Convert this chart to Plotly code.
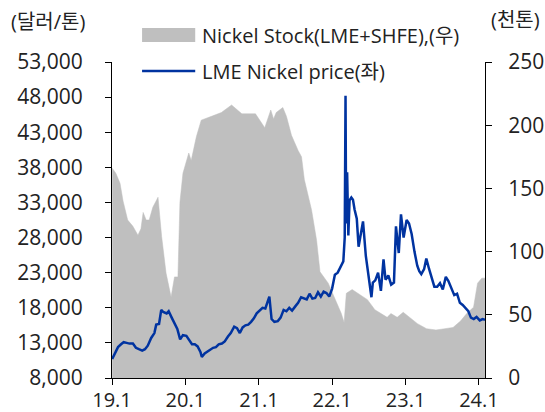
import plotly.graph_objects as go

# LME Nickel price (USD/ton) - left axis
price_dates = [
    "2019-01-02", "2019-01-15", "2019-01-31", "2019-02-15", "2019-02-28", "2019-03-15",
    "2019-03-29", "2019-04-15", "2019-04-30", "2019-05-15", "2019-05-31", "2019-06-14",
    "2019-06-28", "2019-07-15", "2019-07-31", "2019-08-09", "2019-08-23", "2019-09-03",
    "2019-09-13", "2019-09-30", "2019-10-10", "2019-10-25", "2019-11-08", "2019-11-22",
    "2019-12-06", "2019-12-20", "2020-01-06", "2020-01-20", "2020-02-03", "2020-02-17",
    "2020-03-02", "2020-03-16", "2020-03-23", "2020-04-06", "2020-04-20", "2020-05-04",
    "2020-05-18", "2020-06-01", "2020-06-15", "2020-07-01", "2020-07-15", "2020-07-31",
    "2020-08-14", "2020-08-31", "2020-09-14", "2020-09-28", "2020-10-12", "2020-10-26",
    "2020-11-09", "2020-11-23", "2020-12-07", "2020-12-21", "2021-01-05", "2021-01-19",
    "2021-02-02", "2021-02-22", "2021-03-05", "2021-03-19", "2021-04-05", "2021-04-19",
    "2021-05-04", "2021-05-18", "2021-06-01", "2021-06-15", "2021-07-01", "2021-07-15",
    "2021-07-30", "2021-08-13", "2021-08-27", "2021-09-10", "2021-09-24", "2021-10-08",
    "2021-10-22", "2021-11-05", "2021-11-19", "2021-12-03", "2021-12-17", "2021-12-31",
    "2022-01-14", "2022-01-28", "2022-02-11", "2022-02-25", "2022-03-04", "2022-03-07",
    "2022-03-08", "2022-03-11", "2022-03-16", "2022-03-22", "2022-03-28", "2022-04-06",
    "2022-04-14", "2022-04-22", "2022-05-03", "2022-05-12", "2022-05-26", "2022-06-03",
    "2022-06-17", "2022-06-30", "2022-07-15", "2022-07-22", "2022-08-03", "2022-08-17",
    "2022-08-31", "2022-09-13", "2022-09-23", "2022-10-07", "2022-10-21", "2022-11-04",
    "2022-11-14", "2022-11-28", "2022-12-09", "2022-12-22", "2023-01-06", "2023-01-18",
    "2023-01-31", "2023-02-14", "2023-02-28", "2023-03-10", "2023-03-20", "2023-04-03",
    "2023-04-14", "2023-04-27", "2023-05-10", "2023-05-24", "2023-06-07", "2023-06-21",
    "2023-07-05", "2023-07-20", "2023-08-02", "2023-08-17", "2023-08-31", "2023-09-14",
    "2023-09-28", "2023-10-12", "2023-10-26", "2023-11-09", "2023-11-22", "2023-12-06",
    "2023-12-20", "2024-01-05", "2024-01-19", "2024-01-31",
]
price_values = [
    10700, 11500, 12400, 12800, 13100, 13000,
    12900, 12900, 12300, 12100, 11900, 12100,
    12600, 13700, 14400, 15600, 15700, 17700,
    17400, 17200, 17500, 16600, 15900, 15000,
    13500, 14100, 14000, 13300, 12800, 12800,
    12500, 11700, 11000, 11500, 11800, 12000,
    12300, 12400, 12800, 12900, 13200, 13900,
    14400, 15300, 15100, 14400, 15200, 15500,
    15600, 16000, 16500, 17200, 17600, 18000,
    17900, 19600, 16400, 16000, 16100, 16600,
    17700, 17500, 18000, 17600, 18200, 18700,
    19500, 19300, 19200, 20000, 19300, 19400,
    20200, 19600, 20300, 20100, 19600, 20700,
    22700, 23000, 23700, 24600, 28000, 42000,
    48200, 30000, 37300, 28300, 33300, 33700,
    33400, 32000, 30700, 26700, 28800, 30300,
    25400, 22400, 19500, 21600, 21900, 23000,
    20400, 24900, 22000, 22600, 21300, 21600,
    29600, 25800, 31300, 28000, 30500, 30000,
    28500, 26000, 24000, 23200, 22800, 23500,
    25000, 23600, 22200, 21000, 21000, 21500,
    20600, 22400, 21800, 20800, 19800, 20000,
    18700, 18400, 18000, 17500, 16600, 16400,
    16700, 16200, 16400, 16300,
]

# Nickel stock LME+SHFE (thousand tons) - right axis
stock_dates = [
    "2019-01-02", "2019-01-20", "2019-02-10", "2019-02-25", "2019-03-20", "2019-04-15",
    "2019-05-10", "2019-05-25", "2019-06-05", "2019-06-20", "2019-07-05", "2019-07-23",
    "2019-08-18", "2019-09-05", "2019-09-27", "2019-10-22", "2019-11-08", "2019-11-25",
    "2019-12-05", "2019-12-20", "2020-01-18", "2020-01-30", "2020-02-25", "2020-03-20",
    "2020-05-10", "2020-06-28", "2020-08-18", "2020-10-08", "2020-12-15", "2021-01-30",
    "2021-03-01", "2021-03-15", "2021-03-28", "2021-04-30", "2021-05-18", "2021-06-12",
    "2021-07-15", "2021-08-01", "2021-08-15", "2021-09-20", "2021-10-15", "2021-11-01",
    "2021-12-12", "2022-01-15", "2022-02-15", "2022-03-01", "2022-03-12", "2022-04-10",
    "2022-05-15", "2022-06-25", "2022-08-01", "2022-09-01", "2022-10-01", "2022-10-20",
    "2022-11-20", "2022-12-20", "2023-01-20", "2023-03-01", "2023-04-15", "2023-06-01",
    "2023-07-15", "2023-08-25", "2023-10-01", "2023-11-01", "2023-12-05", "2023-12-25",
    "2024-01-15", "2024-01-31",
]
stock_values = [
    166, 162, 154, 140, 125, 120,
    113, 118, 131, 125, 125, 135,
    143, 112, 83, 64, 80, 80,
    139, 162, 178, 172, 191, 204,
    207, 210, 216, 209, 209, 198,
    212, 205, 210, 214, 207, 192,
    180, 175, 157, 133, 109, 84,
    75, 62, 51, 44, 67, 70,
    66, 62, 54, 51, 48, 51,
    48, 52, 48, 43, 39, 38,
    39, 40, 45, 51, 56, 75,
    79, 79,
]

tick_vals = ["2019-01-01", "2020-01-01", "2021-01-01", "2022-01-01", "2023-01-01", "2024-01-01"]
tick_text = ["19.1", "20.1", "21.1", "22.1", "23.1", "24.1"]

stock_name = "Nickel Stock(LME+SHFE),(우)"
price_name = "LME Nickel price(좌)"

FONT = "Open Sans, Noto Sans CJK KR, sans-serif"
GRAY = "#BFBFBF"
BLUE = "#0033A0"

fig = go.Figure()
fig.add_trace(go.Scatter(
    x=stock_dates, y=stock_values, name=stock_name,
    mode="lines", fill="tozeroy", fillcolor=GRAY,
    line=dict(color=GRAY, width=0.5), yaxis="y", showlegend=False,
))
fig.add_trace(go.Scatter(
    x=price_dates, y=price_values, name=price_name,
    mode="lines", line=dict(color=BLUE, width=2.5), yaxis="y2", showlegend=False,
))

axis_common = dict(
    showline=True, linecolor="black", linewidth=1,
    ticks="outside", ticklen=6, tickcolor="black", tickwidth=1,
    showgrid=False, zeroline=False, automargin=False,
)

fig.update_layout(
    width=545, height=412,
    margin=dict(l=112, r=60, t=62, b=34),
    paper_bgcolor="white", plot_bgcolor="white",
    font=dict(family=FONT, size=21, color="#222222"),
    showlegend=False,
    xaxis=dict(
        type="date", range=["2019-01-01", "2024-01-31"],
        tickvals=tick_vals, ticktext=tick_text, ticklabelstandoff=-2,
        tickfont=dict(size=20),
        **axis_common,
    ),
    yaxis=dict(
        side="right", range=[0, 250], dtick=50, tick0=0,
        ticklabelstandoff=12,
        **axis_common,
    ),
    yaxis2=dict(
        overlaying="y", side="left", range=[8000, 53000], dtick=5000, tick0=8000,
        tickformat=",", ticklabelstandoff=18,
        **axis_common,
    ),
    shapes=[
        # legend swatches
        dict(type="rect", xref="paper", yref="paper",
             x0=0.0806, x1=0.2231, y0=1.0633, y1=1.1076,
             fillcolor=GRAY, line=dict(width=0)),
        dict(type="line", xref="paper", yref="paper",
             x0=0.0806, x1=0.2231, y0=0.9715, y1=0.9715,
             line=dict(color=BLUE, width=2.5)),
    ],
    annotations=[
        dict(text=stock_name, xref="paper", yref="paper", x=0.2366, y=1.0854,
             xanchor="left", yanchor="middle", showarrow=False, font=dict(size=20)),
        dict(text=price_name, xref="paper", yref="paper", x=0.2366, y=0.9715,
             xanchor="left", yanchor="middle", showarrow=False, font=dict(size=20)),
        dict(text="(달러/톤)", xref="paper", yref="paper", x=-0.277, y=1.127,
             xanchor="left", yanchor="middle", showarrow=False, font=dict(size=20)),
        dict(text="(천톤)", xref="paper", yref="paper", x=1.153, y=1.136,
             xanchor="right", yanchor="middle", showarrow=False, font=dict(size=20)),
    ],
)

fig.write_html("out.html", config={"displayModeBar": False},
               post_script="document.body.style.margin='0';")
